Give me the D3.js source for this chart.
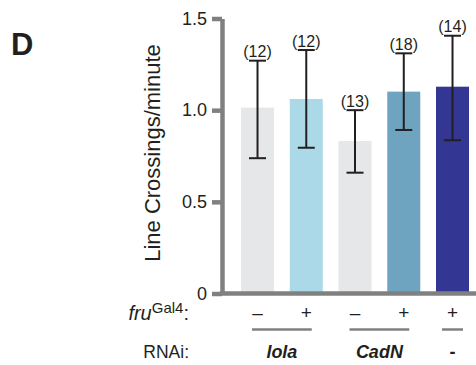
<html>
<head>
  <script src="https://d3js.org/d3.v7.min.js"></script>
  <style>
    body { margin: 0; background: #fff; }
    text { font-family: "Liberation Sans", Arial, sans-serif; }
  </style>
</head>
<body>
<script>

// data
let groups = ["lola-", "lola+", "CadN-", "CadN+", "ctrl+"];
let means = [1.014, 1.061, 0.832, 1.101, 1.128];
let errUpper = [1.270, 1.328, 1.000, 1.310, 1.406];
let errLower = [0.738, 0.795, 0.659, 0.892, 0.836];
let nLabels = ["(12)", "(12)", "(13)", "(18)", "(14)"];
let barColors = ["#e6e7e8", "#acd9e8", "#e6e7e8", "#6fa4c0", "#333692"];
let fruLabels = ["\u2013", "+", "\u2013", "+", "+"];
let rnaiGroups = [
  { label: "lola", from: 0, to: 1 },
  { label: "CadN", from: 2, to: 3 },
  { label: "-", from: 4, to: 4 }
];
let yTicks = [0, 0.5, 1, 1.5];

let canvasW = 476;
let canvasH = 365;
let axisX = 222;
let textCol = "#231f20";
let axisCol = "#808080";

let svg = d3.select("body").append("svg")
  .attr("width", canvasW)
  .attr("height", canvasH);

let y = d3.scaleLinear().domain([0, 1.5]).range([293.5, 18.5]);

let step = 48.75;
let pIn = 0.323;
let pOut = 0.39;
let x = d3.scaleBand()
  .domain(groups)
  .range([axisX, axisX + step * (groups.length - pIn + 2 * pOut)])
  .paddingInner(pIn)
  .paddingOuter(pOut);
let bw = x.bandwidth();
let cx = i => x(groups[i]) + bw / 2;

// panel letter
svg.append("text")
  .attr("x", 11)
  .attr("y", 55)
  .attr("font-size", "31px")
  .attr("font-weight", "bold")
  .attr("fill", textCol)
  .text("D");

// bars
svg.selectAll(".bar")
  .data(groups)
  .enter()
  .append("rect")
  .attr("class", "bar")
  .attr("x", d => x(d))
  .attr("y", (d, i) => y(means[i]))
  .attr("width", bw)
  .attr("height", (d, i) => y(0) - y(means[i]))
  .attr("fill", (d, i) => barColors[i]);

// error bars
let eb = svg.selectAll(".err")
  .data(groups)
  .enter()
  .append("g")
  .attr("class", "err")
  .attr("stroke", textCol)
  .attr("stroke-width", 2);

eb.append("line")
  .attr("x1", (d, i) => cx(i)).attr("x2", (d, i) => cx(i))
  .attr("y1", (d, i) => y(errUpper[i])).attr("y2", (d, i) => y(errLower[i]));
eb.append("line")
  .attr("x1", (d, i) => cx(i) - 8.5).attr("x2", (d, i) => cx(i) + 8.5)
  .attr("y1", (d, i) => y(errUpper[i])).attr("y2", (d, i) => y(errUpper[i]));
eb.append("line")
  .attr("x1", (d, i) => cx(i) - 8.5).attr("x2", (d, i) => cx(i) + 8.5)
  .attr("y1", (d, i) => y(errLower[i])).attr("y2", (d, i) => y(errLower[i]));

// n labels
svg.selectAll(".nlab")
  .data(groups)
  .enter()
  .append("text")
  .attr("class", "nlab")
  .attr("x", (d, i) => cx(i))
  .attr("y", (d, i) => y(errUpper[i]) - 3.5)
  .attr("text-anchor", "middle")
  .attr("font-size", "16px")
  .attr("fill", textCol)
  .text((d, i) => nLabels[i]);

// y axis
let yAxis = svg.append("g")
  .attr("transform", "translate(" + axisX + ",0)")
  .call(d3.axisLeft(y)
    .tickValues(yTicks)
    .tickFormat(d => d === 0 ? "0" : d.toFixed(1))
    .tickSize(10)
    .tickSizeOuter(0)
    .tickPadding(5));
yAxis.select(".domain").attr("stroke", axisCol).attr("stroke-width", 4.5);
yAxis.selectAll(".tick line").attr("stroke", axisCol).attr("stroke-width", 4.5);
yAxis.selectAll(".tick text")
  .attr("font-size", "18px")
  .attr("font-family", "'Liberation Sans', Arial, sans-serif")
  .attr("fill", textCol);

// x axis line
svg.append("line")
  .attr("x1", axisX - 2.25)
  .attr("x2", canvasW)
  .attr("y1", y(0))
  .attr("y2", y(0))
  .attr("stroke", axisCol)
  .attr("stroke-width", 4.5);

// y axis title
svg.append("text")
  .attr("transform", "translate(160," + 153 + ") rotate(-90)")
  .attr("text-anchor", "middle")
  .attr("font-size", "22px")
  .attr("fill", textCol)
  .text("Line Crossings/minute");

// fruGal4 row
let fru = svg.append("text")
  .attr("x", 189)
  .attr("y", 320)
  .attr("text-anchor", "end")
  .attr("font-size", "20px")
  .attr("fill", textCol);
fru.append("tspan").attr("font-style", "italic").text("fru");
fru.append("tspan").attr("font-size", "15px").attr("dy", -7).text("Gal4");
fru.append("tspan").attr("dy", 7).text(":");

svg.selectAll(".fru")
  .data(groups)
  .enter()
  .append("text")
  .attr("class", "fru")
  .attr("x", (d, i) => cx(i))
  .attr("y", 319)
  .attr("text-anchor", "middle")
  .attr("font-size", "19px")
  .attr("fill", textCol)
  .text((d, i) => fruLabels[i]);

// group underlines
svg.selectAll(".uline")
  .data(rnaiGroups)
  .enter()
  .append("line")
  .attr("class", "uline")
  .attr("x1", d => cx(d.from) - (d.from === d.to ? 10.5 : 5.5))
  .attr("x2", d => cx(d.to) + (d.from === d.to ? 10.5 : 5.5))
  .attr("y1", 329.5)
  .attr("y2", 329.5)
  .attr("stroke", axisCol)
  .attr("stroke-width", 2.5);

// RNAi row
svg.append("text")
  .attr("x", 189)
  .attr("y", 358)
  .attr("text-anchor", "end")
  .attr("font-size", "17.5px")
  .attr("fill", textCol)
  .text("RNAi:");

svg.selectAll(".rnai")
  .data(rnaiGroups)
  .enter()
  .append("text")
  .attr("class", "rnai")
  .attr("x", d => (cx(d.from) + cx(d.to)) / 2)
  .attr("y", 358)
  .attr("text-anchor", "middle")
  .attr("font-size", "18px")
  .attr("font-weight", "bold")
  .attr("font-style", d => d.label === "-" ? "normal" : "italic")
  .attr("fill", textCol)
  .text(d => d.label);

</script>
</body>
</html>
